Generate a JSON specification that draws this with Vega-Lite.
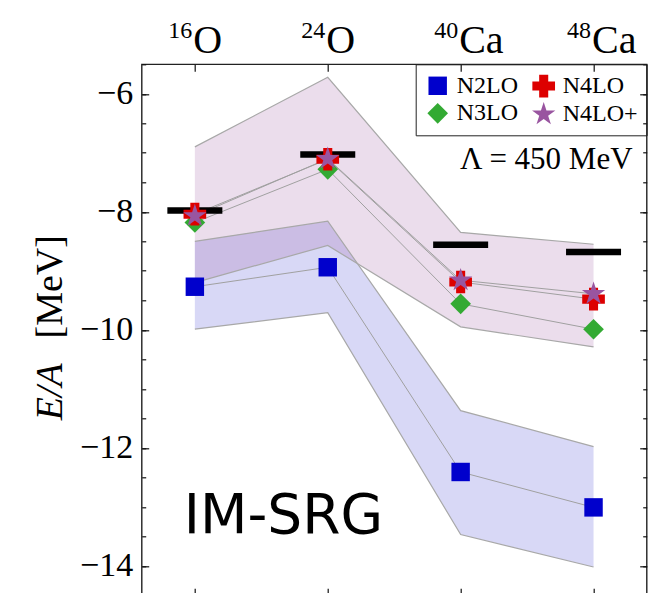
{
  "$schema": "https://vega.github.io/schema/vega-lite/v6.json",
  "width": 505,
  "height": 531,
  "autosize": {"type": "none"},
  "padding": {"left": 141.7, "top": 64.3, "right": 7.3, "bottom": 0},
  "background": "white",
  "config": {
    "view": {"stroke": "#222", "strokeWidth": 1.4},
    "axis": {"domain": false, "grid": false, "tickColor": "#111", "tickWidth": 1.2, "labelFont": "Liberation Serif", "labelColor": "black", "titleFont": "Liberation Serif", "titleColor": "black", "titleFontWeight": "normal"},
    "legend": {"labelFont": "Liberation Serif", "labelFontSize": 24, "labelColor": "black", "labelOffset": 6, "columnPadding": 12, "rowPadding": 3, "padding": 9, "symbolSize": 280, "strokeColor": "#222", "offset": 0}
  },
  "datasets": {
    "bands": [
      {"nucleus": "16O", "band": "N2LO", "lo": -9.99, "hi": -8.50},
      {"nucleus": "24O", "band": "N2LO", "lo": -9.71, "hi": -8.16},
      {"nucleus": "40Ca", "band": "N2LO", "lo": -13.47, "hi": -11.37},
      {"nucleus": "48Ca", "band": "N2LO", "lo": -14.02, "hi": -11.98},
      {"nucleus": "16O", "band": "N4LO+", "lo": -9.2, "hi": -6.9},
      {"nucleus": "24O", "band": "N4LO+", "lo": -8.57, "hi": -5.72},
      {"nucleus": "40Ca", "band": "N4LO+", "lo": -9.95, "hi": -8.35},
      {"nucleus": "48Ca", "band": "N4LO+", "lo": -10.29, "hi": -8.55}
    ],
    "calc": [
      {"nucleus": "16O", "order": "N2LO", "E": -9.27},
      {"nucleus": "24O", "order": "N2LO", "E": -8.94},
      {"nucleus": "40Ca", "order": "N2LO", "E": -12.41},
      {"nucleus": "48Ca", "order": "N2LO", "E": -13.01},
      {"nucleus": "16O", "order": "N3LO", "E": -8.18},
      {"nucleus": "24O", "order": "N3LO", "E": -7.28},
      {"nucleus": "40Ca", "order": "N3LO", "E": -9.56},
      {"nucleus": "48Ca", "order": "N3LO", "E": -9.99},
      {"nucleus": "16O", "order": "N4LO", "E": -8.04},
      {"nucleus": "24O", "order": "N4LO", "E": -7.11},
      {"nucleus": "40Ca", "order": "N4LO", "E": -9.19},
      {"nucleus": "48Ca", "order": "N4LO", "E": -9.48},
      {"nucleus": "16O", "order": "N4LO+", "E": -8.07},
      {"nucleus": "24O", "order": "N4LO+", "E": -7.10},
      {"nucleus": "40Ca", "order": "N4LO+", "E": -9.16},
      {"nucleus": "48Ca", "order": "N4LO+", "E": -9.39}
    ],
    "exp": [
      {"nucleus": "16O", "E": -7.98},
      {"nucleus": "24O", "E": -7.03},
      {"nucleus": "40Ca", "E": -8.56},
      {"nucleus": "48Ca", "E": -8.68}
    ]
  },
  "resolve": {"axis": {"x": "independent", "y": "independent"}},
  "layer": [
    {
      "data": {"name": "bands"},
      "transform": [{"filter": "datum.band === 'N2LO'"}],
      "mark": {"type": "area", "fill": "#1a1acc", "fillOpacity": 0.17},
      "encoding": {
        "x": {"field": "nucleus", "type": "ordinal", "scale": {"type": "point", "domain": ["16O", "24O", "40Ca", "48Ca"], "padding": 0.4},
              "axis": {"orient": "top", "tickSize": -7, "labelPadding": 19, "labelFontSize": 40, "labelAngle": 0, "labelAlign": "left", "labelOffset": -2, "labelBaseline": "alphabetic",
                       "labelExpr": "replace(datum.label, regexp('[0-9]+', 'g'), '')", "title": null}},
        "y": {"field": "hi", "type": "quantitative", "scale": {"domain": [-14.5, -5.5], "nice": false, "zero": false},
              "axis": {"orient": "left", "values": [-14, -12, -10, -8, -6], "tickSize": -7, "labelPadding": 16, "labelFontSize": 34,
                       "title": "[MeV]", "titleFontSize": 38, "titleX": -80, "titleY": 222, "titleAngle": -90, "titleBaseline": "alphabetic", "titleAlign": "center"}},
        "y2": {"field": "lo"}
      }
    },
    {
      "data": {"name": "bands"},
      "transform": [{"filter": "datum.band === 'N4LO+'"}],
      "mark": {"type": "area", "fill": "#9955a0", "fillOpacity": 0.2},
      "encoding": {
        "x": {"field": "nucleus", "type": "ordinal", "scale": {"type": "point", "domain": ["16O", "24O", "40Ca", "48Ca"], "padding": 0.4},
              "axis": {"orient": "bottom", "tickSize": -7, "labels": false, "title": null}},
        "y": {"field": "hi", "type": "quantitative", "scale": {"domain": [-14.5, -5.5], "nice": false, "zero": false},
              "axis": {"orient": "left", "values": [-14.5, -14, -13.5, -13, -12.5, -12, -11.5, -11, -10.5, -10, -9.5, -9, -8.5, -8, -7.5, -7, -6.5, -6, -5.5], "tickSize": -4, "labels": false,
                       "title": "E/A", "titleFontStyle": "italic", "titleFontSize": 38, "titleX": -80, "titleY": 327, "titleAngle": -90, "titleBaseline": "alphabetic", "titleAlign": "center"}},
        "y2": {"field": "lo"}
      }
    },
    {
      "data": {"name": "bands"},
      "transform": [{"fold": ["lo", "hi"], "as": ["edge", "val"]}],
      "mark": {"type": "line", "color": "#a8a8a8", "strokeWidth": 1.2},
      "encoding": {
        "x": {"field": "nucleus", "type": "ordinal", "scale": {"type": "point", "domain": ["16O", "24O", "40Ca", "48Ca"], "padding": 0.4},
              "axis": {"orient": "top", "ticks": false, "labelPadding": 27, "labelFontSize": 24, "labelAngle": 0, "labelAlign": "right", "labelOffset": -3, "labelBaseline": "alphabetic",
                       "labelExpr": "replace(datum.label, regexp('[A-Za-z]+', 'g'), '')", "title": null}},
        "y": {"field": "val", "type": "quantitative", "scale": {"domain": [-14.5, -5.5], "nice": false, "zero": false},
              "axis": {"orient": "right", "values": [-14, -12, -10, -8, -6], "tickSize": -7, "labels": false, "title": null}},
        "detail": [{"field": "band"}, {"field": "edge"}]
      }
    },
    {
      "data": {"name": "calc"},
      "mark": {"type": "line", "color": "#a0a0a0", "strokeWidth": 1},
      "encoding": {
        "x": {"field": "nucleus", "type": "ordinal", "scale": {"type": "point", "domain": ["16O", "24O", "40Ca", "48Ca"], "padding": 0.4}, "axis": null},
        "y": {"field": "E", "type": "quantitative", "scale": {"domain": [-14.5, -5.5], "nice": false, "zero": false},
              "axis": {"orient": "right", "values": [-14.5, -14, -13.5, -13, -12.5, -12, -11.5, -11, -10.5, -10, -9.5, -9, -8.5, -8, -7.5, -7, -6.5, -6, -5.5], "tickSize": -4, "labels": false, "title": null}},
        "detail": {"field": "order"}
      }
    },
    {
      "data": {"name": "exp"},
      "mark": {"type": "tick", "color": "black", "size": 55, "thickness": 6.5, "orient": "horizontal", "opacity": 1},
      "encoding": {
        "x": {"field": "nucleus", "type": "ordinal", "scale": {"type": "point", "domain": ["16O", "24O", "40Ca", "48Ca"], "padding": 0.4}, "axis": null},
        "y": {"field": "E", "type": "quantitative", "scale": {"domain": [-14.5, -5.5], "nice": false, "zero": false}, "axis": null}
      }
    },
    {
      "data": {"name": "calc"},
      "mark": {"type": "point", "filled": true, "opacity": 1, "strokeWidth": 0},
      "encoding": {
        "x": {"field": "nucleus", "type": "ordinal", "scale": {"type": "point", "domain": ["16O", "24O", "40Ca", "48Ca"], "padding": 0.4}, "axis": null},
        "y": {"field": "E", "type": "quantitative", "scale": {"domain": [-14.5, -5.5], "nice": false, "zero": false}, "axis": null},
        "color": {"field": "order", "type": "nominal",
                  "scale": {"domain": ["N2LO", "N3LO", "N4LO", "N4LO+"], "range": ["#0000cc", "#33aa33", "#dd0000", "#9955a0"]},
                  "legend": {"title": null, "orient": "top-right", "columns": 2, "labelFont": "Liberation Serif", "labelFontSize": 24, "labelOffset": 6, "columnPadding": 12}},
        "shape": {"field": "order", "type": "nominal",
                  "scale": {"domain": ["N2LO", "N3LO", "N4LO", "N4LO+"], "range": ["square", "diamond", "cross", "M0,-1L0.2245,-0.309L0.9511,-0.309L0.3633,0.118L0.5878,0.809L0,0.382L-0.5878,0.809L-0.3633,0.118L-0.9511,-0.309L-0.2245,-0.309Z"]},
                  "legend": {"title": null, "orient": "top-right", "columns": 2, "labelFont": "Liberation Serif", "labelFontSize": 24, "labelOffset": 6, "columnPadding": 12}},
        "size": {"field": "order", "type": "nominal", "scale": {"domain": ["N2LO", "N3LO", "N4LO", "N4LO+"], "range": [340, 600, 650, 1100]}, "legend": null}
      }
    },
    {
      "data": {"values": [{"t": "Λ = 450 MeV", "nucleus": "48Ca", "E": -7.283}]},
      "mark": {"type": "text", "font": "Liberation Serif", "fontSize": 31, "align": "right", "baseline": "alphabetic", "dx": 39, "color": "black"},
      "encoding": {
        "text": {"field": "t"},
        "x": {"field": "nucleus", "type": "ordinal", "scale": {"type": "point", "domain": ["16O", "24O", "40Ca", "48Ca"], "padding": 0.4}, "axis": null},
        "y": {"field": "E", "type": "quantitative", "scale": {"domain": [-14.5, -5.5], "nice": false, "zero": false}, "axis": null}
      }
    },
    {
      "data": {"values": [{"t": "IM-SRG", "nucleus": "16O", "E": -13.436}]},
      "mark": {"type": "text", "font": "DejaVu Sans", "fontSize": 55, "align": "left", "baseline": "alphabetic", "dx": -11, "color": "black"},
      "encoding": {
        "text": {"field": "t"},
        "x": {"field": "nucleus", "type": "ordinal", "scale": {"type": "point", "domain": ["16O", "24O", "40Ca", "48Ca"], "padding": 0.4}, "axis": null},
        "y": {"field": "E", "type": "quantitative", "scale": {"domain": [-14.5, -5.5], "nice": false, "zero": false}, "axis": null}
      }
    }
  ]
}
